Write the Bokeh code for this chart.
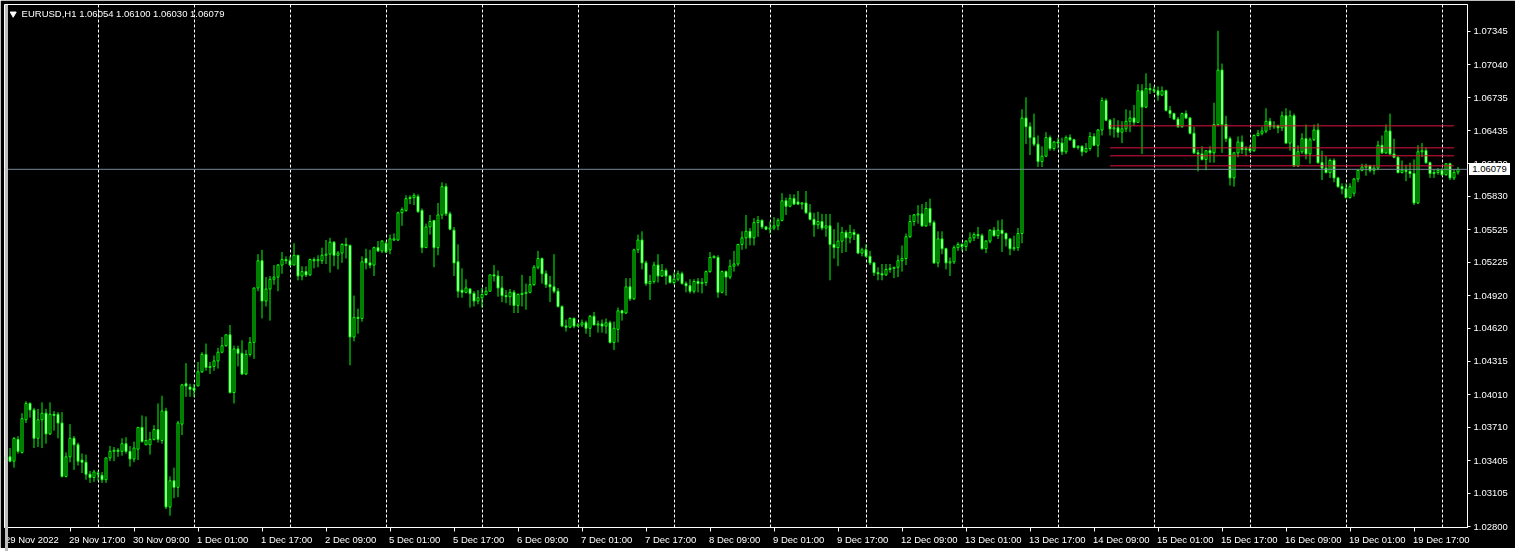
from datetime import datetime, timedelta
from bokeh.plotting import figure
from bokeh.layouts import column
from bokeh.models import (ColumnDataSource, FixedTicker, Range1d, Span, Label, Div,
                          NumeralTickFormatter, CustomJSTickFormatter, LinearAxis)
from bokeh.embed import file_html
from bokeh.resources import INLINE

symbol_header = "EURUSD,H1  1.06054 1.06100 1.06030 1.06079"

opens = [
    1.0344,1.0344,1.0340,1.0360,1.0348,1.0378,1.0393,1.0387,1.0361,1.0378,
    1.0384,1.0365,1.0383,1.0383,1.0375,1.0326,1.0344,1.0361,1.0355,1.0341,
    1.0339,1.0328,1.0325,1.0329,1.0327,1.0323,1.0343,1.0349,1.0350,1.0349,
    1.0356,1.0349,1.0342,1.0351,1.0371,1.0355,1.0355,1.0360,1.0369,1.0359,
    1.0386,1.0298,1.0322,1.0316,1.0374,1.0411,1.0408,1.0407,1.0409,1.0422,
    1.0438,1.0426,1.0427,1.0432,1.0440,1.0446,1.0456,1.0403,1.0443,1.0439,
    1.0420,1.0438,1.0449,1.0499,1.0524,1.0487,1.0498,1.0507,1.0509,1.0520,
    1.0525,1.0524,1.0520,1.0529,1.0510,1.0514,1.0511,1.0525,1.0524,1.0524,
    1.0529,1.0530,1.0541,1.0529,1.0531,1.0539,1.0538,1.0454,1.0472,1.0471,
    1.0526,1.0522,1.0520,1.0536,1.0533,1.0540,1.0534,1.0543,1.0543,1.0568,
    1.0570,1.0581,1.0582,1.0583,1.0570,1.0536,1.0555,1.0561,1.0536,1.0566,
    1.0592,1.0567,1.0552,1.0523,1.0497,1.0495,1.0498,1.0494,1.0487,1.0490,
    1.0493,1.0496,1.0511,1.0510,1.0499,1.0492,1.0491,1.0495,1.0483,1.0493,
    1.0494,1.0495,1.0502,1.0518,1.0526,1.0512,1.0502,1.0500,1.0496,1.0482,
    1.0464,1.0463,1.0471,1.0464,1.0465,1.0467,1.0462,1.0473,1.0465,1.0466,
    1.0464,1.0467,1.0449,1.0461,1.0478,1.0476,1.0500,1.0489,1.0534,1.0543,
    1.0522,1.0503,1.0505,1.0520,1.0510,1.0515,1.0510,1.0504,1.0507,1.0512,
    1.0503,1.0501,1.0496,1.0505,1.0503,1.0504,1.0514,1.0527,1.0527,1.0495,
    1.0514,1.0509,1.0519,1.0521,1.0539,1.0545,1.0551,1.0545,1.0559,1.0561,
    1.0555,1.0553,1.0554,1.0556,1.0561,1.0579,1.0574,1.0581,1.0578,1.0576,
    1.0577,1.0568,1.0562,1.0557,1.0560,1.0554,1.0556,1.0539,1.0536,1.0542,
    1.0550,1.0545,1.0550,1.0548,1.0531,1.0534,1.0528,1.0522,1.0513,1.0512,
    1.0511,1.0516,1.0517,1.0518,1.0524,1.0526,1.0546,1.0560,1.0566,1.0567,
    1.0556,1.0572,1.0559,1.0522,1.0544,1.0535,1.0522,1.0523,1.0536,1.0539,
    1.0537,1.0542,1.0545,1.0548,1.0547,1.0535,1.0542,1.0552,1.0547,1.0552,
    1.0549,1.0544,1.0535,1.0536,1.0549,1.0655,1.0647,1.0637,1.0631,1.0615,
    1.0620,1.0637,1.0627,1.0633,1.0632,1.0624,1.0637,1.0635,1.0628,1.0629,
    1.0624,1.0627,1.0638,1.0630,1.0644,1.0671,1.0653,1.0645,1.0646,1.0642,
    1.0645,1.0652,1.0655,1.0651,1.0680,1.0665,1.0682,1.0681,1.0680,1.0676,
    1.0680,1.0662,1.0659,1.0654,1.0647,1.0659,1.0655,1.0641,1.0623,1.0622,
    1.0617,1.0625,1.0623,1.0649,1.0699,1.0649,1.0636,1.0600,1.0623,1.0633,
    1.0626,1.0627,1.0625,1.0639,1.0641,1.0643,1.0652,1.0647,1.0648,1.0646,
    1.0657,1.0632,1.0657,1.0611,1.0624,1.0636,1.0622,1.0635,1.0644,1.0614,
    1.0609,1.0605,1.0616,1.0600,1.0592,1.0590,1.0582,1.0586,1.0599,1.0607,
    1.0610,1.0611,1.0607,1.0609,1.0630,1.0623,1.0643,1.0622,1.0619,1.0605,
    1.0607,1.0606,1.0604,1.0577,1.0624,1.0625,1.0614,1.0604,1.0605,1.0607,
    1.0603,1.0613,1.0600,1.06054,
]

highs = [
    1.0348,1.0352,1.0362,1.0363,1.0384,1.0395,1.0394,1.0389,1.0388,1.0394,
    1.0388,1.0394,1.0386,1.0385,1.0385,1.0348,1.0374,1.0363,1.0357,1.0347,
    1.0346,1.0331,1.0332,1.0331,1.0330,1.0343,1.0354,1.0353,1.0352,1.0361,
    1.0362,1.0354,1.0358,1.0371,1.0382,1.0381,1.0367,1.0373,1.0393,1.0400,
    1.0389,1.0326,1.0334,1.0377,1.0411,1.0430,1.0411,1.0411,1.0431,1.0440,
    1.0448,1.0431,1.0437,1.0444,1.0454,1.0456,1.0465,1.0446,1.0446,1.0451,
    1.0442,1.0454,1.0499,1.0530,1.0534,1.0509,1.0510,1.0520,1.0521,1.0532,
    1.0528,1.0528,1.0540,1.0529,1.0519,1.0519,1.0526,1.0527,1.0529,1.0536,
    1.0543,1.0545,1.0542,1.0533,1.0540,1.0545,1.0539,1.0492,1.0480,1.0528,
    1.0535,1.0534,1.0537,1.0542,1.0543,1.0542,1.0548,1.0549,1.0569,1.0573,
    1.0584,1.0584,1.0586,1.0585,1.0572,1.0558,1.0566,1.0561,1.0577,1.0596,
    1.0595,1.0569,1.0555,1.0539,1.0517,1.0507,1.0499,1.0496,1.0497,1.0499,
    1.0500,1.0511,1.0520,1.0515,1.0510,1.0497,1.0498,1.0497,1.0494,1.0511,
    1.0503,1.0510,1.0520,1.0533,1.0527,1.0515,1.0510,1.0530,1.0499,1.0483,
    1.0470,1.0472,1.0472,1.0467,1.0470,1.0469,1.0474,1.0477,1.0469,1.0470,
    1.0471,1.0469,1.0468,1.0481,1.0479,1.0508,1.0508,1.0535,1.0548,1.0551,
    1.0524,1.0511,1.0523,1.0530,1.0521,1.0517,1.0511,1.0513,1.0515,1.0514,
    1.0505,1.0507,1.0507,1.0508,1.0508,1.0515,1.0532,1.0529,1.0529,1.0515,
    1.0515,1.0525,1.0533,1.0539,1.0551,1.0566,1.0554,1.0563,1.0565,1.0562,
    1.0556,1.0560,1.0564,1.0563,1.0586,1.0582,1.0585,1.0585,1.0588,1.0578,
    1.0588,1.0576,1.0568,1.0569,1.0567,1.0567,1.0567,1.0553,1.0559,1.0555,
    1.0552,1.0557,1.0553,1.0549,1.0536,1.0539,1.0533,1.0523,1.0518,1.0521,
    1.0521,1.0521,1.0518,1.0529,1.0538,1.0549,1.0566,1.0567,1.0575,1.0576,
    1.0578,1.0581,1.0561,1.0551,1.0551,1.0536,1.0527,1.0538,1.0541,1.0540,
    1.0543,1.0550,1.0550,1.0555,1.0549,1.0543,1.0553,1.0555,1.0561,1.0562,
    1.0550,1.0545,1.0547,1.0554,1.0663,1.0674,1.0651,1.0659,1.0639,1.0629,
    1.0642,1.0639,1.0634,1.0637,1.0637,1.0639,1.0640,1.0636,1.0630,1.0630,
    1.0632,1.0642,1.0641,1.0645,1.0674,1.0673,1.0654,1.0655,1.0653,1.0652,
    1.0663,1.0662,1.0667,1.0686,1.0686,1.0696,1.0687,1.0684,1.0684,1.0684,
    1.0681,1.0666,1.0660,1.0656,1.0660,1.0662,1.0656,1.0647,1.0626,1.0629,
    1.0625,1.0629,1.0669,1.0735,1.0705,1.0657,1.0638,1.0624,1.0638,1.0639,
    1.0629,1.0630,1.0640,1.0644,1.0647,1.0664,1.0655,1.0652,1.0649,1.0661,
    1.0664,1.0662,1.0659,1.0630,1.0641,1.0649,1.0637,1.0649,1.0650,1.0625,
    1.0620,1.0618,1.0618,1.0601,1.0595,1.0595,1.0595,1.0600,1.0608,1.0613,
    1.0613,1.0612,1.0612,1.0634,1.0639,1.0649,1.0659,1.0636,1.0620,1.0616,
    1.0612,1.0614,1.0617,1.0630,1.0632,1.0628,1.0615,1.0608,1.0609,1.0609,
    1.0613,1.0614,1.0608,1.06100,
]

lows = [
    1.0339,1.0339,1.0334,1.0347,1.0347,1.0375,1.0380,1.0352,1.0353,1.0352,
    1.0356,1.0364,1.0368,1.0361,1.0325,1.0325,1.0339,1.0332,1.0336,1.0329,
    1.0323,1.0320,1.0321,1.0322,1.0320,1.0320,1.0340,1.0340,1.0344,1.0345,
    1.0347,1.0335,1.0339,1.0341,1.0357,1.0355,1.0346,1.0359,1.0357,1.0356,
    1.0296,1.0290,1.0306,1.0307,1.0364,1.0399,1.0399,1.0399,1.0409,1.0421,
    1.0423,1.0420,1.0423,1.0425,1.0439,1.0445,1.0402,1.0393,1.0427,1.0419,
    1.0419,1.0436,1.0434,1.0496,1.0471,1.0482,1.0469,1.0502,1.0496,1.0512,
    1.0521,1.0519,1.0520,1.0506,1.0506,1.0509,1.0510,1.0517,1.0518,1.0521,
    1.0521,1.0513,1.0519,1.0516,1.0522,1.0526,1.0428,1.0450,1.0457,1.0468,
    1.0516,1.0517,1.0510,1.0532,1.0531,1.0531,1.0530,1.0542,1.0542,1.0556,
    1.0569,1.0576,1.0575,1.0568,1.0531,1.0536,1.0548,1.0518,1.0529,1.0562,
    1.0565,1.0552,1.0510,1.0490,1.0490,1.0494,1.0481,1.0482,1.0484,1.0481,
    1.0492,1.0496,1.0505,1.0491,1.0486,1.0485,1.0483,1.0476,1.0476,1.0482,
    1.0479,1.0494,1.0501,1.0516,1.0503,1.0499,1.0486,1.0494,1.0481,1.0463,
    1.0459,1.0462,1.0462,1.0463,1.0463,1.0457,1.0454,1.0465,1.0458,1.0458,
    1.0457,1.0448,1.0442,1.0449,1.0469,1.0475,1.0487,1.0488,1.0531,1.0516,
    1.0501,1.0488,1.0503,1.0504,1.0509,1.0502,1.0503,1.0502,1.0505,1.0502,
    1.0495,1.0494,1.0494,1.0495,1.0494,1.0501,1.0513,1.0526,1.0490,1.0494,
    1.0492,1.0507,1.0514,1.0519,1.0534,1.0535,1.0538,1.0538,1.0546,1.0553,
    1.0552,1.0549,1.0552,1.0552,1.0560,1.0566,1.0573,1.0575,1.0575,1.0571,
    1.0567,1.0561,1.0546,1.0553,1.0552,1.0546,1.0506,1.0526,1.0519,1.0531,
    1.0532,1.0540,1.0543,1.0530,1.0528,1.0527,1.0520,1.0510,1.0506,1.0506,
    1.0510,1.0513,1.0508,1.0509,1.0514,1.0520,1.0545,1.0556,1.0558,1.0555,
    1.0555,1.0556,1.0521,1.0518,1.0530,1.0516,1.0510,1.0521,1.0533,1.0533,
    1.0533,1.0540,1.0542,1.0544,1.0534,1.0531,1.0540,1.0546,1.0544,1.0532,
    1.0537,1.0529,1.0533,1.0533,1.0540,1.0631,1.0621,1.0629,1.0610,1.0610,
    1.0619,1.0625,1.0625,1.0627,1.0621,1.0622,1.0634,1.0627,1.0626,1.0620,
    1.0623,1.0625,1.0629,1.0619,1.0639,1.0652,1.0639,1.0637,1.0637,1.0632,
    1.0642,1.0642,1.0648,1.0651,1.0622,1.0664,1.0677,1.0678,1.0671,1.0675,
    1.0661,1.0655,1.0653,1.0646,1.0646,1.0654,1.0640,1.0622,1.0606,1.0616,
    1.0607,1.0614,1.0614,1.0648,1.0623,1.0633,1.0593,1.0592,1.0619,1.0622,
    1.0620,1.0623,1.0624,1.0638,1.0639,1.0641,1.0644,1.0645,1.0641,1.0643,
    1.0631,1.0625,1.0610,1.0610,1.0622,1.0617,1.0613,1.0634,1.0613,1.0598,
    1.0604,1.0600,1.0596,1.0591,1.0585,1.0581,1.0581,1.0583,1.0596,1.0606,
    1.0602,1.0605,1.0603,1.0607,1.0622,1.0622,1.0621,1.0618,1.0604,1.0604,
    1.0597,1.0600,1.0575,1.0576,1.0619,1.0613,1.0600,1.0600,1.0603,1.0602,
    1.0602,1.0598,1.0598,1.06030,
]

closes = [
    1.0341,1.0340,1.0361,1.0349,1.0379,1.0393,1.0387,1.0361,1.0378,1.0384,
    1.0365,1.0383,1.0382,1.0375,1.0326,1.0344,1.0361,1.0355,1.0340,1.0339,
    1.0328,1.0325,1.0330,1.0328,1.0323,1.0343,1.0349,1.0350,1.0349,1.0356,
    1.0349,1.0342,1.0352,1.0371,1.0358,1.0359,1.0360,1.0369,1.0360,1.0386,
    1.0298,1.0322,1.0316,1.0375,1.0410,1.0409,1.0406,1.0405,1.0422,1.0438,
    1.0426,1.0427,1.0432,1.0440,1.0446,1.0456,1.0403,1.0443,1.0439,1.0420,
    1.0438,1.0449,1.0499,1.0524,1.0487,1.0498,1.0507,1.0509,1.0520,1.0525,
    1.0524,1.0520,1.0529,1.0510,1.0514,1.0511,1.0525,1.0524,1.0525,1.0529,
    1.0530,1.0541,1.0529,1.0531,1.0539,1.0538,1.0454,1.0472,1.0471,1.0523,
    1.0522,1.0520,1.0536,1.0533,1.0542,1.0532,1.0544,1.0544,1.0568,1.0571,
    1.0581,1.0582,1.0584,1.0569,1.0536,1.0555,1.0560,1.0536,1.0566,1.0592,
    1.0567,1.0553,1.0522,1.0496,1.0495,1.0499,1.0494,1.0487,1.0490,1.0493,
    1.0496,1.0511,1.0510,1.0499,1.0492,1.0491,1.0495,1.0483,1.0493,1.0494,
    1.0495,1.0502,1.0518,1.0526,1.0512,1.0502,1.0500,1.0496,1.0482,1.0464,
    1.0463,1.0471,1.0464,1.0465,1.0467,1.0462,1.0473,1.0465,1.0466,1.0464,
    1.0467,1.0449,1.0462,1.0478,1.0476,1.0500,1.0489,1.0534,1.0543,1.0522,
    1.0503,1.0505,1.0520,1.0510,1.0515,1.0510,1.0504,1.0507,1.0512,1.0503,
    1.0501,1.0496,1.0505,1.0503,1.0504,1.0514,1.0527,1.0528,1.0495,1.0514,
    1.0509,1.0519,1.0521,1.0539,1.0545,1.0551,1.0545,1.0559,1.0561,1.0555,
    1.0553,1.0554,1.0556,1.0561,1.0579,1.0574,1.0581,1.0576,1.0576,1.0577,
    1.0568,1.0562,1.0557,1.0560,1.0554,1.0556,1.0539,1.0536,1.0542,1.0550,
    1.0545,1.0550,1.0548,1.0531,1.0534,1.0528,1.0522,1.0513,1.0512,1.0511,
    1.0516,1.0517,1.0518,1.0524,1.0526,1.0546,1.0560,1.0566,1.0567,1.0556,
    1.0572,1.0559,1.0522,1.0544,1.0535,1.0522,1.0523,1.0536,1.0539,1.0537,
    1.0542,1.0545,1.0548,1.0547,1.0535,1.0542,1.0552,1.0547,1.0552,1.0549,
    1.0544,1.0535,1.0536,1.0549,1.0655,1.0647,1.0637,1.0631,1.0615,1.0620,
    1.0637,1.0627,1.0633,1.0632,1.0624,1.0637,1.0635,1.0628,1.0629,1.0624,
    1.0627,1.0638,1.0630,1.0644,1.0671,1.0653,1.0645,1.0646,1.0642,1.0645,
    1.0652,1.0655,1.0651,1.0680,1.0665,1.0682,1.0681,1.0680,1.0676,1.0680,
    1.0662,1.0659,1.0654,1.0647,1.0659,1.0655,1.0641,1.0623,1.0622,1.0617,
    1.0625,1.0623,1.0649,1.0699,1.0649,1.0636,1.0600,1.0623,1.0633,1.0626,
    1.0627,1.0625,1.0639,1.0641,1.0643,1.0652,1.0647,1.0648,1.0646,1.0657,
    1.0632,1.0657,1.0611,1.0624,1.0636,1.0622,1.0635,1.0644,1.0614,1.0609,
    1.0605,1.0616,1.0600,1.0592,1.0590,1.0582,1.0592,1.0599,1.0607,1.0610,
    1.0611,1.0607,1.0609,1.0630,1.0623,1.0643,1.0622,1.0619,1.0605,1.0607,
    1.0606,1.0604,1.0577,1.0624,1.0625,1.0614,1.0604,1.0605,1.0607,1.0603,
    1.0613,1.0600,1.0605,1.06079,
]

time_labels = ["29 Nov 2022", "29 Nov 17:00", "30 Nov 09:00", "1 Dec 01:00",
               "1 Dec 17:00", "2 Dec 09:00", "5 Dec 01:00", "5 Dec 17:00",
               "6 Dec 09:00", "7 Dec 01:00", "7 Dec 17:00", "8 Dec 09:00",
               "9 Dec 01:00", "9 Dec 17:00", "12 Dec 09:00", "13 Dec 01:00",
               "13 Dec 17:00", "14 Dec 09:00", "15 Dec 01:00", "15 Dec 17:00",
               "16 Dec 09:00", "19 Dec 01:00", "19 Dec 17:00"]

price_ticks = [1.07345, 1.07040, 1.06735, 1.06435, 1.06130, 1.05830, 1.05525,
               1.05225, 1.04920, 1.04620, 1.04315, 1.04010, 1.03710, 1.03405,
               1.03105, 1.02800]

level_prices = [1.06478, 1.06276, 1.06203, 1.06111]
level_bar_start = 276
level_bar_end = 362
last_price = 1.06079
last_price_text = "1.06079"

# ---------------------------------------------------------------
n = min(len(opens), len(highs), len(lows), len(closes))
idx = list(range(n))

# hourly bar times (weekends skipped) -> daily separators
times = []
t = datetime(2022, 11, 29, 1)
for i in range(n):
    times.append(t)
    t += timedelta(hours=1)
    if t.weekday() >= 5:
        t += timedelta(days=7 - t.weekday())
day_starts = [i for i, tt in enumerate(times) if tt.hour == 0]
label_step = 16
tick_pos = [i * label_step for i in range(len(time_labels))]

LIME = "#00ff00"
FONT = "Liberation Sans"
FS_PX = 9.5
FS = "9.5px"
PX_PER_BAR = 4.0

# approximate advance widths (em) of Liberation Sans, to left-align the
# time labels at their tick (axis labels are centred by Bokeh)
ADV = {" ": 0.278, ":": 0.278, "N": 0.722, "D": 0.722, "o": 0.556,
       "v": 0.5, "e": 0.556, "c": 0.5}
def text_px(s):
    return sum(ADV.get(ch, 0.556) for ch in s) * FS_PX
label_centres = [tp + (text_px(s) / 2.0 - 1.0) / PX_PER_BAR
                 for tp, s in zip(tick_pos, time_labels)]

y0, y1 = 1.02791, 1.07592
p = figure(width=1515, height=548,
           x_range=Range1d(-0.375, 365.375), y_range=Range1d(y0, y1),
           y_axis_location="right", toolbar_location=None, output_backend="svg",
           background_fill_color="black", border_fill_color="black",
           outline_line_color="white", outline_line_width=1,
           min_border_left=4, min_border_top=4, min_border_right=48,
           min_border_bottom=21)
p.styles = {"position": "fixed", "left": "0px", "top": "0px"}

# bottom axis 1: tick marks only
p.xaxis.ticker = FixedTicker(ticks=tick_pos)
p.xaxis.major_label_text_alpha = 0
p.xaxis.major_label_text_font_size = "0px"
p.xaxis.major_label_standoff = 0
p.xaxis.axis_line_color = "white"
p.xaxis.major_tick_line_color = "white"
p.xaxis.major_tick_out = 4
p.xaxis.major_tick_in = 0
p.xaxis.minor_tick_line_color = None

# bottom axis 2: the time labels
time_axis = LinearAxis(ticker=FixedTicker(ticks=label_centres),
                       formatter=CustomJSTickFormatter(args=dict(labels=time_labels),
                                                       code="return labels[index];"),
                       axis_line_color=None, major_tick_line_color=None,
                       minor_tick_line_color=None, major_tick_out=0, major_tick_in=0,
                       major_label_standoff=2, major_label_text_color="white",
                       major_label_text_font=FONT, major_label_text_font_size=FS)
p.add_layout(time_axis, "below")

# price scale
p.yaxis.ticker = FixedTicker(ticks=price_ticks)
p.yaxis.formatter = NumeralTickFormatter(format="0.00000")
p.yaxis.axis_line_color = "white"
p.yaxis.major_tick_line_color = "white"
p.yaxis.major_tick_out = 3
p.yaxis.major_tick_in = 0
p.yaxis.minor_tick_line_color = None
p.yaxis.major_label_standoff = 3
p.yaxis.major_label_text_color = "white"
p.yaxis.major_label_text_font = FONT
p.yaxis.major_label_text_font_size = FS

# grid: dotted day separators only
p.ygrid.visible = False
p.xgrid.ticker = FixedTicker(ticks=day_starts)
p.xgrid.grid_line_color = "white"
p.xgrid.grid_line_dash = "3 2"
p.xgrid.grid_line_width = 1

# candles
bull = [i for i in idx if closes[i] > opens[i]]
bear = [i for i in idx if closes[i] <= opens[i]]
wick_src = ColumnDataSource(dict(x=idx, lo=lows[:n], hi=highs[:n]))
p.segment(x0="x", y0="lo", x1="x", y1="hi", source=wick_src,
          line_color=LIME, line_width=1)
bull_src = ColumnDataSource(dict(x=bull, top=[closes[i] for i in bull],
                                 bottom=[opens[i] for i in bull]))
bear_src = ColumnDataSource(dict(x=bear, top=[opens[i] for i in bear],
                                 bottom=[closes[i] for i in bear]))
p.vbar(x="x", top="top", bottom="bottom", width=0.5, source=bull_src,
       fill_color="black", line_color=LIME, line_width=1)
p.vbar(x="x", top="top", bottom="bottom", width=0.5, source=bear_src,
       fill_color="white", line_color=LIME, line_width=1)

# horizontal level lines
p.segment(x0=[level_bar_start] * len(level_prices), x1=[level_bar_end] * len(level_prices),
          y0=level_prices, y1=level_prices, line_color="#dc143c", line_width=1)

# current price line
p.add_layout(Span(location=last_price, dimension="width",
                  line_color="#778899", line_width=1))

# header
p.scatter(x=[1.8], y=[1.07507], marker="inverted_triangle", size=6,
          fill_color="white", line_color="white")
p.add_layout(Label(x=3.9, y=1.07510, text=symbol_header, text_color="white",
                   text_font=FONT, text_font_size=FS, text_baseline="middle",
                   text_align="left"))

# price tag on the right scale
tag_html = ('<div style="width:41px;height:12px;background:#ffffff;color:#000000;'
            'font-family:\'Liberation Sans\';font-size:9.5px;line-height:12px;'
            'text-align:center;margin:0;padding:0;">' + last_price_text + '</div>')
tag = Div(text=tag_html, width=41, height=12,
          styles={"position": "fixed", "left": "1469px", "top": "160px",
                  "margin": "0px", "padding": "0px"})

# terminal window edges
left_edge = Div(text="", width=3, height=551,
                styles={"position": "fixed", "left": "0px", "top": "0px",
                        "width": "3px", "height": "551px",
                        "background-color": "#bdbdbd"})
bottom_edge = Div(text="", width=1515, height=3,
                  styles={"position": "fixed", "left": "0px", "top": "548px",
                          "width": "1515px", "height": "3px",
                          "background-color": "#f0f0f0"})

layout = column(p, tag, left_edge, bottom_edge)
open("out.html", "w").write(file_html(layout, INLINE))
